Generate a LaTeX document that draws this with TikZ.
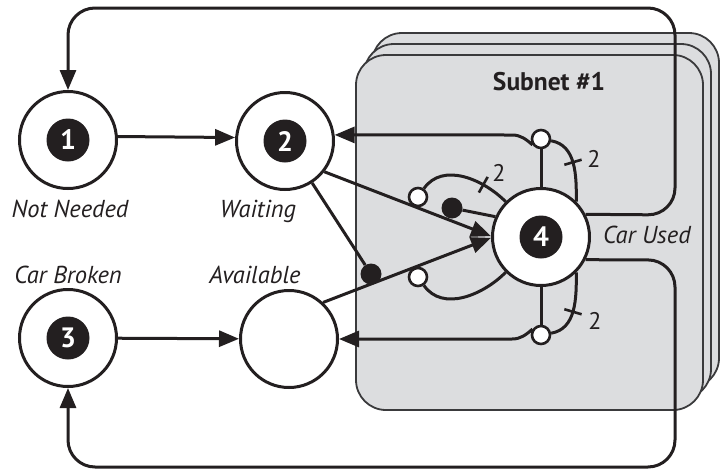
\documentclass[tikz,border=0pt]{standalone}
\usepackage{fontspec}
\setmainfont{PT Sans}
\usetikzlibrary{arrows.meta,decorations.markings}
\definecolor{ink}{HTML}{231F20}
\definecolor{boxfill}{HTML}{DCDDDF}
\definecolor{boxline}{HTML}{3A3A3C}
\pgfdeclarelayer{back}
\pgfsetlayers{back,main}
\begin{document}
\begin{tikzpicture}[x=1pt,y=-1pt,
  place/.style={circle, draw=ink, line width=3pt, fill=white, minimum size=97pt, inner sep=0pt},
  num/.style={circle, fill=ink, minimum size=43pt, inner sep=0pt, text=white, font=\fontsize{28}{28}\selectfont\bfseries},
  lbl/.style={font=\fontsize{24.5}{24.5}\selectfont\itshape, text=ink, anchor=base},
  conn/.style={draw=ink, line width=3pt},
  arr/.style={conn, -{Triangle[length=20pt,width=16pt]}},
  opendot/.style={circle, draw=ink, line width=2.6pt, fill=white, minimum size=18pt, inner sep=0pt},
  fulldot/.style={circle, fill=ink, minimum size=21pt, inner sep=0pt},
  tickat/.style={postaction={decorate}, decoration={markings, mark=at position #1 with {\draw[ink, line width=2.6pt] (0pt,-9pt) -- (0pt,9pt);}}},
  subbox/.style={draw=boxline, line width=1.8pt, fill=boxfill, rounded corners=30pt},
  wt/.style={font=\fontsize{24}{24}\selectfont, text=ink, anchor=base}
]
\useasboundingbox (0,0) rectangle (721,472);
\begin{pgfonlayer}{back}
\path[subbox] (372,33) rectangle (719,388);
\path[subbox] (364,44) rectangle (711,399);
\path[subbox] (356,55) rectangle (703,410);
\end{pgfonlayer}

% places
\node[place] (n1) at (68,140) {};
\node[num] (k1) at (n1) {1};
\node[place] (n2) at (285,141) {};
\node[num] (k2) at (n2) {2};
\node[place] (n3) at (68,338) {};
\node[num] (k3) at (n3) {3};
\node[place] (nA) at (289,339) {};
\node[place] (n4) at (541,237) {};
\node[num] (k4) at (n4) {4};

% small dots
\node[opendot] (oc1) at (418,197) {};
\node[opendot] (oc2) at (541,139) {};
\node[opendot] (oc3) at (541,335) {};
\node[opendot] (oc4) at (418,277) {};
\node[fulldot] (bd1) at (452,208) {};
\node[fulldot] (bd2) at (371,274) {};

% labels
\node[lbl] (t1) at (70,217) {Not Needed};
\node[lbl] (t2) at (258,217) {Waiting};
\node[lbl] (t3) at (68,283) {Car Broken};
\node[lbl] (tA) at (255,283) {Available};
\node[lbl] (t4) at (647,243) {Car Used};
\node[font=\fontsize{25.5}{25.5}\selectfont\bfseries, text=ink, anchor=base] (ts) at (549,90) {Subnet \#1};
\node[wt] (w1) at (499,181) {2};
\node[wt] (w2) at (594,167) {2};
\node[wt] (w3) at (595,329) {2};

\coordinate (h2) at (512,135);
\coordinate (h3) at (512,339);
\coordinate (a1) at (675,215);
\coordinate (a2) at (675,8);
\coordinate (a3) at (68,8);
\coordinate (b1) at (675,260);
\coordinate (b2) at (675,467);
\coordinate (b3) at (68,467);

\begin{pgfonlayer}{back}
\draw[arr] (n1.4) -- (n2.176);
\draw[arr] (n3) -- (nA);
\draw[arr] (n2.-38) -- (n4.179);
\draw[arr] (nA.47) -- (n4.181);
\draw[conn] (n2) -- (bd2);
\draw[conn] (bd1) -- (n4.156);
\draw[conn, tickat=0.7] (oc1) to[out=55,in=135] (n4.135);
\draw[conn] (oc4) to[out=-55,in=-135] (n4.-135);
\draw[conn] (oc2) -- (n4);
\draw[conn] (oc3) -- (n4);
\draw[arr] (oc2.215) to[out=140,in=0] (h2) -- (n2.7);
\draw[arr] (oc3.145) to[out=-140,in=0] (h3) -- (nA.east);
\draw[conn, tickat=0.45] (oc2) to[out=-10,in=90] (n4.45);
\draw[conn, tickat=0.45] (oc3) to[out=10,in=-90] (n4.-45);
\draw[arr, rounded corners=27pt] (n4.27) -- (a1) -- (a2) -- (a3) -- (n1.north);
\draw[arr, rounded corners=27pt] (n4.-27) -- (b1) -- (b2) -- (b3) -- (n3.south);
\end{pgfonlayer}
\end{tikzpicture}
\end{document}
